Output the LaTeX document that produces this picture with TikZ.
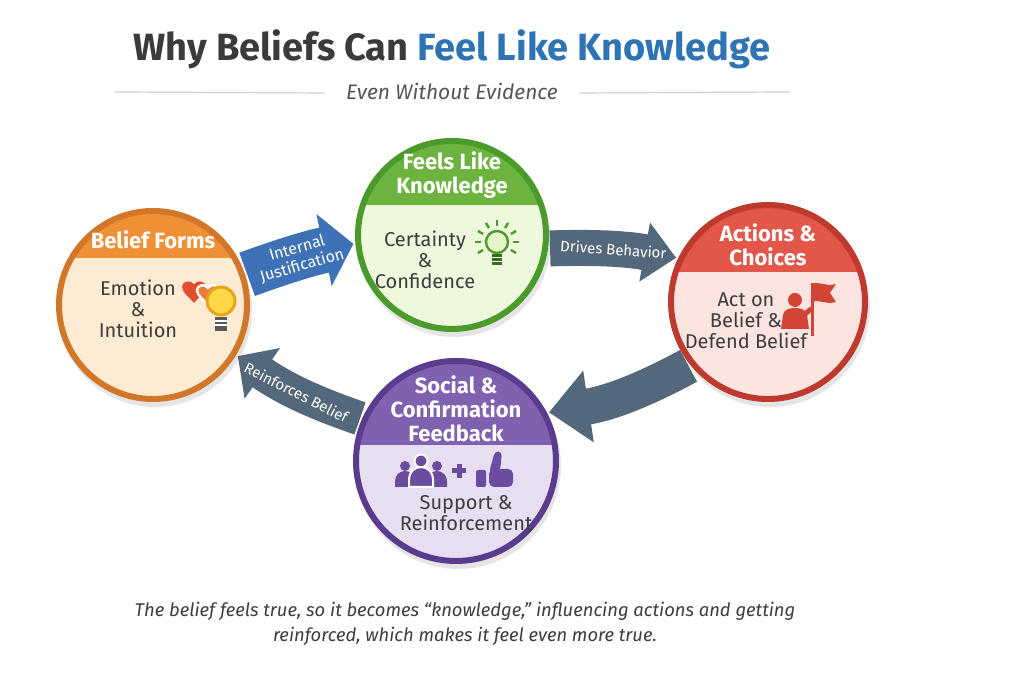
\documentclass[tikz,border=0pt]{standalone}
\usepackage{fontspec}
\setmainfont{Fira Sans}
\usetikzlibrary{arrows.meta,backgrounds}

\definecolor{titlegray}{HTML}{3B3B3B}
\definecolor{titleblue}{HTML}{2E74B5}
\definecolor{inktext}{HTML}{3D3D3D}
\definecolor{subgray}{HTML}{555555}
\definecolor{rulegray}{HTML}{CFCFCF}
\definecolor{beliefline}{HTML}{D2772A}
\definecolor{beliefband}{HTML}{EF8F36}
\definecolor{beliefbody}{HTML}{FDEBD3}
\definecolor{knowline}{HTML}{4B9A2C}
\definecolor{knowband}{HTML}{6CB43F}
\definecolor{knowbody}{HTML}{EEF8DC}
\definecolor{actline}{HTML}{BE3A2E}
\definecolor{actband}{HTML}{E2574A}
\definecolor{actbody}{HTML}{FCE5E1}
\definecolor{socialline}{HTML}{5A3B8E}
\definecolor{socialband}{HTML}{8061B0}
\definecolor{socialbody}{HTML}{E7DEF2}
\definecolor{flowblue}{HTML}{3D72B6}
\definecolor{flowslate}{HTML}{53687A}
\definecolor{heartred}{HTML}{E04F2D}
\definecolor{heartorange}{HTML}{F07A3A}
\definecolor{bulbyellow}{HTML}{FFD94A}
\definecolor{bulbedge}{HTML}{E8A317}
\definecolor{bulbbase}{HTML}{5A5A5A}
\definecolor{knowbulb}{HTML}{E6F6C8}
\definecolor{actflag}{HTML}{D24436}
\definecolor{socialicon}{HTML}{6B4C9E}

\tikzset{
  stage/.style n args={3}{circle, minimum size=#1, line width=3pt,
    draw=#2line, fill=#2body,
    path picture={\fill[#2band] ([yshift=#3]path picture bounding box.west)
      rectangle (path picture bounding box.north east);}},
  headtext/.style={text=white, font=\fontsize{11}{12}\selectfont\bfseries, align=center},
  bodytext/.style={text=inktext, font=\fontsize{10}{10.5}\selectfont, align=center},
  flow/.style n args={4}{draw=#1, line width=#2,
    -{Triangle[length=#4, width=#3]}, shorten <=1pt, shorten >=1pt},
  flowlabel/.style={sloped, text=white, font=\fontsize{7.5}{8.5}\selectfont, align=center},
  heart/.pic={\path[pic actions] (0,-1) .. controls (-0.4,-0.5) and (-1,-0.15) .. (-1,0.35)
    .. controls (-1,0.8) and (-0.3,1) .. (0,0.55)
    .. controls (0.3,1) and (1,0.8) .. (1,0.35)
    .. controls (1,-0.15) and (0.4,-0.5) .. (0,-1) -- cycle;},
}

\begin{document}
\begin{tikzpicture}[x=0.5pt, y=0.5pt]
  \useasboundingbox (0,0) rectangle (1024,683);

  % title
  \node[text=titlegray, font=\fontsize{19}{22}\selectfont\bfseries] (title) at (452,634)
    {Why Beliefs Can \textcolor{titleblue}{Feel Like Knowledge}};
  \node[text=subgray, font=\fontsize{10.5}{12}\selectfont\itshape] (sub) at (452,592) {Even Without Evidence};
  \draw[rulegray, line width=0.6pt] ([xshift=-7pt, yshift=-1pt]sub.west) -- (115,591);
  \draw[rulegray, line width=0.6pt] ([xshift=7pt, yshift=-1pt]sub.east) -- (790,591);

  % stages
  \node[stage={94pt}{belief}{23.5pt}] (bf) at (153,378) {};
  \node[stage={94pt}{know}{15pt}] (fk) at (452,448) {};
  \node[stage={97pt}{act}{15pt}] (ac) at (768,381) {};
  \node[stage={100pt}{social}{8pt}] (sc) at (456,222) {};

  \node[headtext] (bfhead) at ([yshift=32.5pt]bf.center) {Belief Forms};
  \node[headtext] (fkhead) at ([yshift=30pt]fk.center) {Feels Like\\Knowledge};
  \node[headtext] (achead) at ([yshift=28.5pt]ac.center) {Actions \&\\Choices};
  \node[headtext] (schead) at ([yshift=26pt]sc.center) {Social \&\\Confirmation\\Feedback};

  \node[bodytext] (bfbody) at ([xshift=-7.5pt, yshift=-2pt]bf.center) {Emotion\\\&\\Intuition};
  \node[bodytext] (fkbody) at ([xshift=-13.5pt, yshift=-12.5pt]fk.center) {Certainty\\\&\\Confidence};
  \node[bodytext] (acbody) at ([xshift=-11pt, yshift=-9.5pt]ac.center) {Act on\\Belief \&\\Defend Belief};
  \node[bodytext] (scbody) at ([xshift=5pt, yshift=-26pt]sc.center) {Support \&\\Reinforcement};

  % connectors
  \draw[flow={flowblue}{23pt}{36pt}{15pt}] (bf.18) to[bend left=4]
    node[flowlabel, font=\fontsize{8}{9}\selectfont] {Internal\\Justification} (fk.185);
  \draw[flow={flowslate}{18pt}{29pt}{16pt}] (fk.-8) to[bend left=6]
    node[flowlabel] {Drives Behavior} (ac.154);
  \draw[flow={flowslate}{18pt}{35pt}{20pt}] (ac.219) to[bend left=10] (sc.28);
  \draw[flow={flowslate}{17pt}{30pt}{15pt}] (sc.156) to[bend left=8]
    node[flowlabel] {Reinforces Belief} (bf.-31);

  % icons
  \pic[fill=heartred, scale=12] at (194,392) {heart};
  \pic[fill=heartorange, draw=white, line width=1.2pt, scale=11] at (208,389) {heart};
  \fill[bulbyellow, draw=bulbedge, line width=1.5pt] (221,382) circle (14);
  \fill[bulbbase] (215,352) rectangle (227,366);
  \draw[white, line width=0.6pt] (215,362) -- (227,362) (215,358) -- (227,358);

  \foreach \a in {-30,0,30,60,90,120,150,180,210}
    \draw[knowline, line width=1.2pt] ([shift={(\a:16)}]497,441) -- ([shift={(\a:22)}]497,441);
  \draw[knowline, fill=knowbulb, line width=1.2pt] (497,441) circle (11);
  \fill[knowline!70!black] (492,418) rectangle (502,429);
  \draw[white, line width=0.5pt] (492,425) -- (502,425) (492,421) -- (502,421);

  \fill[actflag] (795,383) circle (7);
  \fill[actflag] (781,354) -- (783,368) .. controls (784,373) and (788,375) .. (795,375)
    .. controls (802,375) and (806,373) .. (807,368) -- (809,354) -- cycle;
  \draw[actflag, line width=2.5pt, line cap=round] (804,368) -- (811,374);
  \draw[actflag, line width=1.5pt] (812,347) -- (812,400);
  \fill[actflag] (812,399) .. controls (820,402) and (826,396) .. (836,399) -- (830,390)
    -- (836,381) .. controls (826,378) and (820,384) .. (812,381) -- cycle;

  \fill[socialicon] (405,217) circle (5) (437,217) circle (5);
  \fill[socialicon] (395,196) -- (395,202) arc[start angle=180, end angle=0, radius=10] -- (415,196) -- cycle;
  \fill[socialicon] (427,196) -- (427,202) arc[start angle=180, end angle=0, radius=10] -- (447,196) -- cycle;
  \fill[socialicon, draw=white, line width=1pt] (421,222) circle (6.5);
  \fill[socialicon, draw=white, line width=1pt] (409,196) -- (409,204) arc[start angle=180, end angle=0, radius=12] -- (433,196) -- cycle;
  \draw[socialicon, line width=2.5pt] (452,212) -- (466,212) (459,205) -- (459,219);
  \fill[socialicon, rounded corners=1pt] (476,196) rectangle (486,213);
  \fill[socialicon, rounded corners=2.5pt] (489,196) rectangle (513,214);
  \fill[socialicon, rounded corners=2pt] (489,210) -- (495,232) -- (502,231) -- (500,212) -- cycle;

  % note
  \node[text=inktext, font=\fontsize{9.2}{12.5}\selectfont\itshape, align=center] (note) at (465,59)
    {The belief feels true, so it becomes “knowledge,” influencing actions and getting\\
     reinforced, which makes it feel even more true.};

  \begin{scope}[on background layer]
    \fill[white] (0,0) rectangle (1024,683);
    \foreach \n/\r in {bf/97, fk/97, ac/100, sc/103}
      \fill[black, opacity=0.10] ([xshift=1pt, yshift=-2.5pt]\n.center) circle (\r);
  \end{scope}
\end{tikzpicture}
\end{document}
